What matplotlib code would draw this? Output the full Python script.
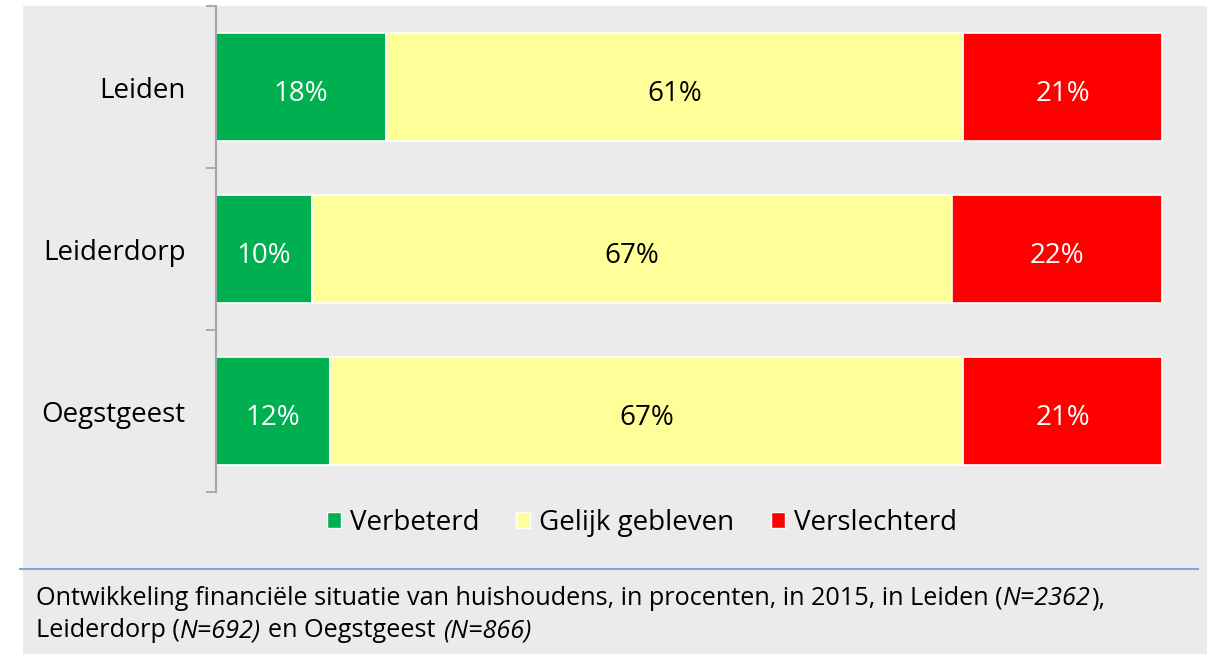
import matplotlib
matplotlib.use('Agg')
import matplotlib.pyplot as plt
from matplotlib.patches import Rectangle, Patch
from matplotlib.lines import Line2D

categories = ["Leiden", "Leiderdorp", "Oegstgeest"]
verbeterd = [18, 10, 12]
gelijk = [61, 67, 67]
verslechterd = [21, 22, 21]
series_names = ["Verbeterd", "Gelijk gebleven", "Verslechterd"]
colors = ["#00B050", "#FFFF99", "#FF0000"]
label_colors = ["white", "black", "white"]

caption_line1 = [("Ontwikkeling financiële situatie van huishoudens, in procenten, in 2015, in Leiden (", "normal"),
                 ("N=2362", "italic"), ("),", "normal")]
caption_line2 = [("Leiderdorp (", "normal"), ("N=692)", "italic"), (" en Oegstgeest ", "normal"),
                 ("(N=866)", "italic")]

FONT = 'Open Sans'
plt.rcParams['font.family'] = [FONT, 'DejaVu Sans']

W, H = 1207, 654
fig = plt.figure(figsize=(W / 100, H / 100), dpi=100)
fig.patch.set_facecolor('white')

bg = '#EBEBEB'
fig.add_artist(Rectangle((23 / W, 0), 1 - 23 / W, (H - 6) / H, transform=fig.transFigure,
                         facecolor=bg, edgecolor='none', zorder=0))
fig.add_artist(Line2D([20 / W, 1198 / W], [1 - 569 / H] * 2, transform=fig.transFigure,
                      color='#7FA9DC', lw=1.5, zorder=1))

ax = fig.add_axes([216 / W, 1 - 492 / H, (1162 - 216) / W, (492 - 6) / H])
ax.set_facecolor('none')

ypos = list(range(len(categories)))
series = [verbeterd, gelijk, verslechterd]
totals = [sum(t) for t in zip(*series)]  # 100% stacked chart: normalise each row
left = [0.0] * len(categories)
for vals, c, lc, name in zip(series, colors, label_colors, series_names):
    widths = [v / t * 100 for v, t in zip(vals, totals)]
    ax.barh(ypos, widths, left=left, height=0.667, color=c, edgecolor='white',
            linewidth=1.2, label=name, clip_on=False)
    for y, v, w, l in zip(ypos, vals, widths, left):
        ax.text(l + w / 2, y + 0.02, f"{v}%", ha='center', va='center_baseline',
                color=lc, fontsize=20)
    left = [a + b for a, b in zip(left, widths)]

ax.set_xlim(0, 100)
ax.set_ylim(len(categories) - 0.5, -0.5)
ax.set_yticks([i - 0.5 for i in range(len(categories) + 1)])
ax.set_yticklabels([])
ax.set_yticks(ypos, minor=True)
ax.set_yticklabels(categories, minor=True, fontsize=20)
ax.tick_params(axis='y', which='major', length=7.5, width=1.3, color='#A6A6A6', direction='out')
ax.tick_params(axis='y', which='minor', length=0, pad=22)
ax.xaxis.set_visible(False)
for s in ['top', 'right', 'bottom']:
    ax.spines[s].set_visible(False)
ax.spines['left'].set_color('#A6A6A6')
ax.spines['left'].set_linewidth(1.5)

handles = [Patch(facecolor=c, edgecolor='white', linewidth=1) for c in colors]
fig.legend(handles, series_names, loc='center', bbox_to_anchor=(642 / W, 1 - 523 / H), ncol=3,
           frameon=False, fontsize=20, handlelength=0.5, handleheight=0.5,
           handletextpad=0.35, columnspacing=1.3)

# caption with mixed styles
fig.canvas.draw()
renderer = fig.canvas.get_renderer()
cap_size = 18.2


def width_of(s, style):
    t = fig.text(0, 0, s, fontsize=cap_size, style=style)
    w = t.get_window_extent(renderer).width
    t.remove()
    return w


space_w = width_of("a a", "normal") - width_of("aa", "normal")


def draw_line(pieces, x0, baseline_px):
    x = x0
    for s, style in pieces:
        lead = len(s) - len(s.lstrip(' '))
        trail = len(s) - len(s.rstrip(' '))
        core = s.strip(' ')
        x += lead * space_w
        t = fig.text(x / W, 1 - baseline_px / H, core, fontsize=cap_size, style=style,
                     va='baseline', ha='left')
        x += t.get_window_extent(renderer).width + trail * space_w + 0.5


draw_line(caption_line1, 36, 605)
draw_line(caption_line2, 36, 637)

fig.savefig('out.png', dpi=100, facecolor=fig.get_facecolor())
